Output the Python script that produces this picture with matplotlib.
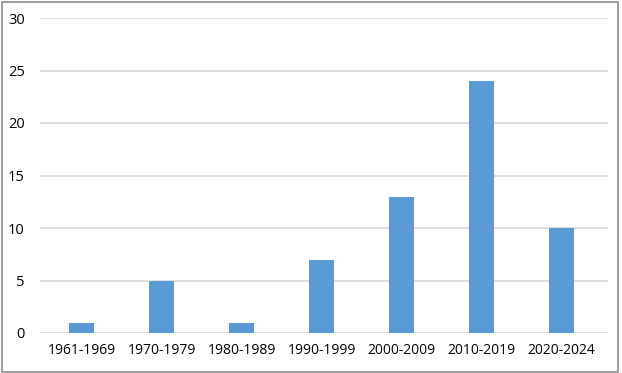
import matplotlib
matplotlib.use("Agg")
import matplotlib.pyplot as plt
from matplotlib.patches import Rectangle

# decades and counts
periods = ["1961-1969", "1970-1979", "1980-1989", "1990-1999",
           "2000-2009", "2010-2019", "2020-2024"]
counts = [1, 5, 1, 7, 13, 24, 10]
yticks = [0, 5, 10, 15, 20, 25, 30]

plt.rcParams['font.family'] = ['Open Sans', 'DejaVu Sans']

fig = plt.figure(figsize=(6.22, 3.73), dpi=100)
ax = fig.add_axes([40 / 622, 1 - 333 / 373, 568 / 622, 315 / 373])

x = list(range(len(periods)))
ax.bar(x, counts, width=0.31, color="#5b9bd5", zorder=3)

ax.set_xlim(-0.519, 6.58)
ax.set_ylim(0, 30)
ax.set_yticks(yticks)
ax.set_xticks(x)
ax.set_xticklabels(periods)
ax.tick_params(axis="both", length=0, labelsize=10, colors="#000000")
ax.tick_params(axis="y", pad=11, labelsize=10.5)
ax.tick_params(axis="x", pad=7)
ax.grid(axis="y", color="#d9d9d9", linewidth=1.2, zorder=0)
for s in ax.spines.values():
    s.set_visible(False)

# outer frame around the picture
fig.patches.append(Rectangle((2 / 622, 1 / 373), 616 / 622, 370 / 373,
                             transform=fig.transFigure, fill=False,
                             edgecolor="#8c8c8c", linewidth=1.2))

fig.savefig("out.png", dpi=100)
